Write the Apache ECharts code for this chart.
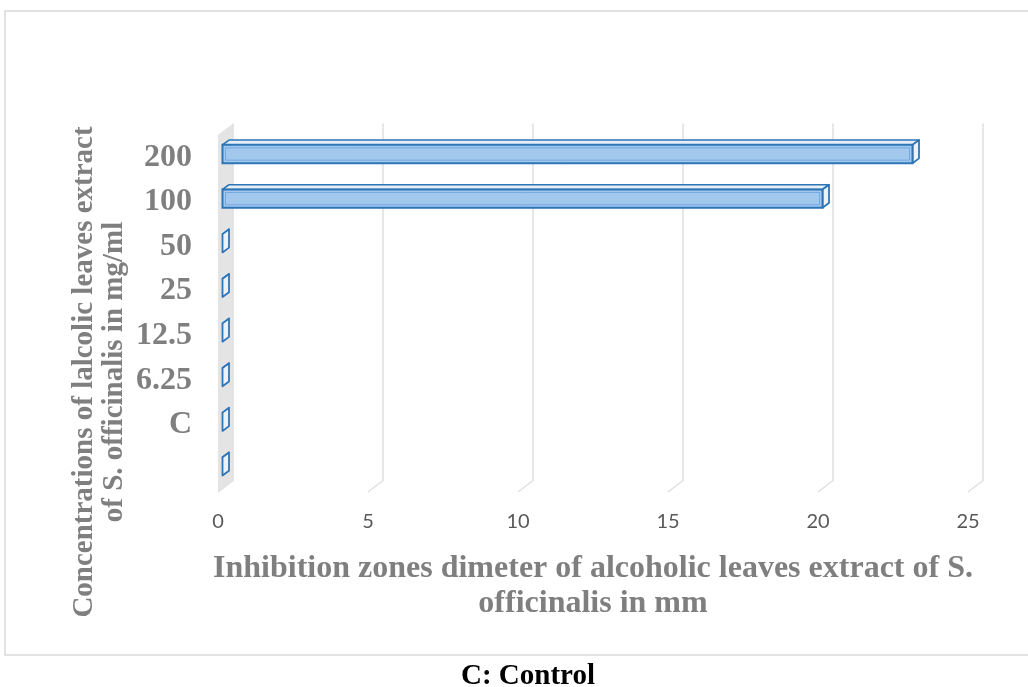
<!DOCTYPE html>
<html>
<head>
<meta charset="utf-8">
<script src="https://cdn.jsdelivr.net/npm/echarts@6/dist/echarts.min.js"></script>
<style>
  html, body { margin: 0; padding: 0; background: #ffffff; }
  #chart { width: 1028px; height: 687px; }
</style>
</head>
<body>
<div id="chart"></div>
<script>
// Concentrations (bottom to top) and inhibition zone diameters in mm
const categories = ['', 'C', '6.25', '12.5', '25', '50', '100', '200'];
const zoneDiameters = [0, 0, 0, 0, 0, 0, 20, 23];
const xTicks = [0, 5, 10, 15, 20, 25];

const xTitle = 'Inhibition zones dimeter of alcoholic leaves extract of S.\nofficinalis in mm';
const yTitleLine1 = 'Concentrations of lalcolic leaves extract';
const yTitleLine2 = 'of S. officinalis in mg/ml';
const footnote = 'C: Control';

// pseudo-3D geometry (pixels)
const WALL = [15, -11.5];      // depth of the plot box
const BAR_FRONT = [4.5, -3.3]; // bar front face, measured from the front plane
const BAR_DEPTH = [6.5, -4.8]; // thickness of each bar
const EDGE = '#2e75b6';
const SERIF = '"Liberation Serif", "Times New Roman", serif';

function renderFrame(params, api) {
  const cs = params.coordSys;
  const x = api.coord([api.value(0), 0])[0];
  const top = cs.y, bottom = cs.y + cs.height;
  const children = [];
  if (params.dataIndex === 0) {
    children.push({
      type: 'polygon',
      shape: { points: [[x, top], [x + WALL[0], top + WALL[1]], [x + WALL[0], bottom + WALL[1]], [x, bottom]] },
      style: { fill: '#e4e4e4' }
    });
  }
  children.push({
    type: 'polyline',
    shape: { points: [[x + WALL[0], top + WALL[1]], [x + WALL[0], bottom + WALL[1]], [x, bottom]] },
    style: { stroke: '#e0e0e0', lineWidth: 1.5, fill: null }
  });
  return { type: 'group', children };
}

function renderBar(params, api) {
  const v = api.value(0);
  const ci = api.value(1);
  const start = api.coord([0, ci]);
  const end = api.coord([v, ci]);
  const band = api.size([0, 1])[1];
  const h = band * 0.41;
  const x0 = start[0] + BAR_FRONT[0];
  const x1 = end[0] + BAR_FRONT[0];
  const yT = start[1] + BAR_FRONT[1] - h / 2;
  const yB = yT + h;
  const [dx, dy] = BAR_DEPTH;
  const children = [
    { // top face
      type: 'polygon',
      shape: { points: [[x0, yT], [x0 + dx, yT + dy], [x1 + dx, yT + dy], [x1, yT]] },
      style: { fill: '#e6eef7', stroke: EDGE, lineWidth: 1.6, lineJoin: 'round' }
    },
    { // end face
      type: 'polygon',
      shape: { points: [[x1, yT], [x1 + dx, yT + dy], [x1 + dx, yB + dy], [x1, yB]] },
      style: { fill: '#eef2f7', stroke: EDGE, lineWidth: 1.8, lineJoin: 'round' }
    }
  ];
  if (x1 - x0 > 1) {
    children.push({ // front face
      type: 'rect',
      shape: { x: x0, y: yT, width: x1 - x0, height: h },
      style: { fill: '#a2c8ee', stroke: EDGE, lineWidth: 2 }
    });
    children.push({ // bevel highlight
      type: 'rect',
      shape: { x: x0 + 3, y: yT + 3, width: x1 - x0 - 6, height: h - 6 },
      style: { fill: null, stroke: 'rgba(70,140,210,0.5)', lineWidth: 1 }
    });
  }
  return { type: 'group', children };
}

const chart = echarts.init(document.getElementById('chart'));
chart.setOption({
  backgroundColor: '#ffffff',
  animation: false,
  grid: { left: 218, right: 60, top: 135, bottom: 195, containLabel: false },
  xAxis: {
    type: 'value',
    min: 0, max: 25, interval: 5,
    axisLine: { show: false },
    axisTick: { show: false },
    splitLine: { show: false },
    axisLabel: { color: '#595959', fontFamily: 'Lato, "Open Sans", sans-serif', fontSize: 20, margin: 20 },
    name: xTitle,
    nameLocation: 'middle',
    nameGap: 59,
    nameTextStyle: { color: '#7f7f7f', fontFamily: SERIF, fontWeight: 'bold', fontSize: 32, lineHeight: 35, align: 'center' }
  },
  yAxis: {
    type: 'category',
    data: categories,
    axisLine: { show: false },
    axisTick: { show: false },
    splitLine: { show: false },
    axisLabel: { color: '#7f7f7f', fontFamily: SERIF, fontWeight: 'bold', fontSize: 32, margin: 26, padding: [4, 0, 0, 0] }
  },
  series: [
    {
      type: 'custom',
      name: 'frame',
      renderItem: renderFrame,
      data: xTicks.map(v => [v, 0]),
      encode: { x: 0, y: 1 },
      z: 1,
      silent: true
    },
    {
      type: 'custom',
      name: 'Inhibition zone',
      renderItem: renderBar,
      data: categories.map((c, i) => [zoneDiameters[i], c]),
      encode: { x: 0, y: 1 },
      z: 2
    }
  ],
  graphic: [
    {
      type: 'rect', silent: true, z: -10,
      shape: { x: 5, y: 11, width: 1040, height: 644 },
      style: { fill: null, stroke: '#d9d9d9', lineWidth: 1.5 }
    },
    {
      type: 'text', x: 85, y: 372, rotation: Math.PI / 2,
      style: { text: yTitleLine1, fill: '#7f7f7f', font: 'bold 29px ' + SERIF, align: 'center', verticalAlign: 'middle' }
    },
    {
      type: 'text', x: 115, y: 372, rotation: Math.PI / 2,
      style: { text: yTitleLine2, fill: '#7f7f7f', font: 'bold 29px ' + SERIF, align: 'center', verticalAlign: 'middle' }
    },
    {
      type: 'text', x: 528, y: 677,
      style: { text: footnote, fill: '#000000', font: 'bold 29px ' + SERIF, align: 'center', verticalAlign: 'middle' }
    }
  ]
});
</script>
</body>
</html>
